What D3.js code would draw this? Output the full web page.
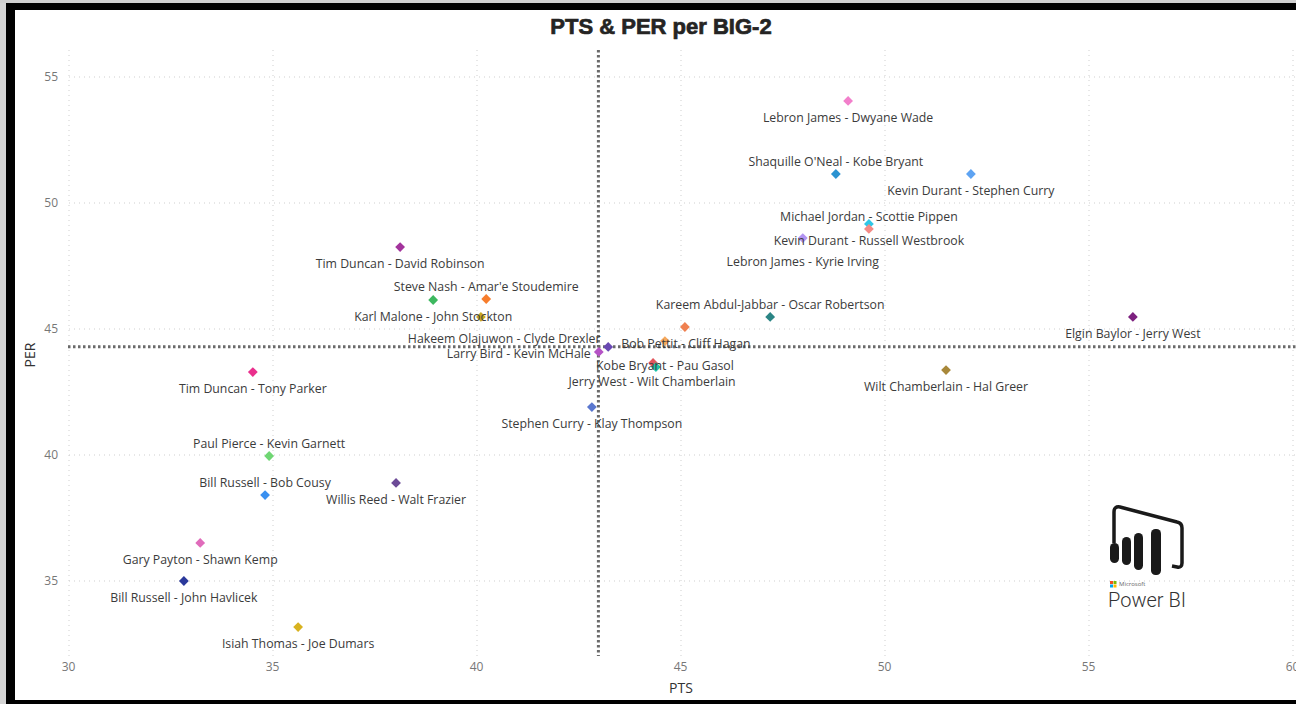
<!DOCTYPE html>
<html>
<head>
<meta charset="utf-8">
<script src="https://cdn.jsdelivr.net/npm/d3@7"></script>
<style>
html, body { margin: 0; padding: 0; background: #fff; overflow: hidden; }
svg { display: block; }
</style>
</head>
<body>
<svg id="chart" width="1296" height="704"></svg>
<script>
// pairs shown in the chart ("" = label hidden by Power BI)
const pairs = [
	"Lebron James - Dwyane Wade",
	"Shaquille O'Neal - Kobe Bryant",
	"Kevin Durant - Stephen Curry",
	"Michael Jordan - Scottie Pippen",
	"Kevin Durant - Russell Westbrook",
	"Lebron James - Kyrie Irving",
	"Tim Duncan - David Robinson",
	"Steve Nash - Amar'e Stoudemire",
	"Karl Malone - John Stockton",
	"",
	"Kareem Abdul-Jabbar - Oscar Robertson",
	" ",
	"Elgin Baylor - Jerry West",
	"Hakeem Olajuwon - Clyde Drexler",
	"Larry Bird - Kevin McHale",
	"Bob Pettit - Cliff Hagan",
	"Jerry West - Wilt Chamberlain",
	"Kobe Bryant - Pau Gasol",
	"Wilt Chamberlain - Hal Greer",
	"Tim Duncan - Tony Parker",
	"Stephen Curry - Klay Thompson",
	"Paul Pierce - Kevin Garnett",
	"Bill Russell - Bob Cousy",
	"Willis Reed - Walt Frazier",
	"Gary Payton - Shawn Kemp",
	"Bill Russell - John Havlicek",
	"Isiah Thomas - Joe Dumars"
];
const pts = [49.12, 48.82, 52.13, 49.63, 49.63, 48.01, 38.14, 40.25, 38.95, 40.12, 47.21, 45.12, 56.10,
	43.24, 43.01, 44.63, 44.34, 44.41, 51.52, 34.53, 42.84, 34.93, 34.83, 38.04, 33.24, 32.84, 35.64];
const per = [54.05, 51.15, 51.15, 49.17, 48.97, 48.61, 48.25, 46.19, 46.15, 45.48, 45.48, 45.08, 45.48,
	44.29, 44.09, 44.52, 43.65, 43.49, 43.37, 43.29, 41.90, 39.96, 38.41, 38.89, 36.51, 35.00, 33.17];

const xTicks = [30, 35, 40, 45, 50, 55, 60];
const yTicks = [35, 40, 45, 50, 55];
const avgPts = 43.0;
const avgPer = 44.3;

// marker colours, same order as pairs
const colors = ["#f27fcb", "#2b93d1", "#5ea3f2", "#2fc7e6", "#f48a86", "#b394f2", "#a3339c", "#f77d2c",
	"#3db85f", "#c9a722", "#2b8585", "#ef8050", "#7d217f", "#6a49b3", "#b553c6", "#f6a85c", "#e2565c",
	"#1fc3a9", "#a8883a", "#ea2f8d", "#5a77cf", "#6fd673", "#3990f0", "#6c4a97", "#e06cbb", "#2b399b", "#d8b21f"];

// label offsets (dx, dy) from the marker; default is below
const labelShift = {
	"Shaquille O'Neal - Kobe Bryant": [0, -12],
	"Michael Jordan - Scottie Pippen": [0, -7],
	"Kevin Durant - Russell Westbrook": [0, 12],
	"Lebron James - Kyrie Irving": [0, 24],
	"Steve Nash - Amar'e Stoudemire": [0, -12],
	"Kareem Abdul-Jabbar - Oscar Robertson": [0, -12],
	"Hakeem Olajuwon - Clyde Drexler": [-104, -8],
	"Larry Bird - Kevin McHale": [-80, 2],
	"Bob Pettit - Cliff Hagan": [21, 3],
	"Jerry West - Wilt Chamberlain": [-1, 19],
	"Kobe Bryant - Pau Gasol": [9, -1],
	"Paul Pierce - Kevin Garnett": [0, -12],
	"Bill Russell - Bob Cousy": [0, -12]
};

const plotTop = 50, plotBottom = 656, plotLeft = 68, plotRight = 1296;

const svg = d3.select("#chart");

// frame
svg.append("rect").attr("x", 0).attr("y", 0).attr("width", 1296).attr("height", 704).attr("fill", "#fff");
svg.append("rect").attr("x", 0).attr("y", 0).attr("width", 6).attr("height", 704).attr("fill", "#d4d4d4");
svg.append("rect").attr("x", 0).attr("y", 0).attr("width", 1296).attr("height", 3).attr("fill", "#cfcfcf");
svg.append("rect").attr("x", 6).attr("y", 3).attr("width", 1290).attr("height", 7).attr("fill", "#000");
svg.append("rect").attr("x", 6).attr("y", 3).attr("width", 9).attr("height", 701).attr("fill", "#000");
svg.append("rect").attr("x", 6).attr("y", 700).attr("width", 1290).attr("height", 4).attr("fill", "#000");

let x = d3.scaleLinear().domain([30, 60]).range([68, 1292]);
let y = d3.scaleLinear().domain([35, 55]).range([581, 77]);

// gridlines
let grid = svg.append("g").attr("stroke", "#cfcfcf").attr("stroke-dasharray", "1,4");
grid.selectAll("line.h").data(yTicks).enter().append("line")
	.attr("x1", plotLeft + 1).attr("x2", plotRight)
	.attr("y1", d => y(d)).attr("y2", d => y(d));
grid.selectAll("line.v").data(xTicks).enter().append("line")
	.attr("x1", d => x(d) + 1).attr("x2", d => x(d) + 1)
	.attr("y1", plotTop).attr("y2", plotBottom);

// axes
let xAxis = svg.append("g")
	.attr("transform", "translate(0," + plotBottom + ")")
	.call(d3.axisBottom(x).tickValues(xTicks).tickSize(0).tickPadding(6).tickFormat(d3.format("d")));
let yAxis = svg.append("g")
	.attr("transform", "translate(" + plotLeft + ",0)")
	.call(d3.axisLeft(y).tickValues(yTicks).tickSize(0).tickPadding(10).tickFormat(d3.format("d")));
[xAxis, yAxis].forEach(a => {
	a.select(".domain").remove();
	a.selectAll("text")
		.attr("fill", "#777")
		.style("font-family", "'Open Sans', sans-serif")
		.style("font-size", "12px");
});

// average lines
let avg = svg.append("g")
	.attr("stroke", "#6a6a6a")
	.attr("stroke-width", 3)
	.attr("stroke-dasharray", "2.5,2.5");
avg.append("line")
	.attr("x1", plotLeft).attr("x2", plotRight)
	.attr("y1", y(avgPer)).attr("y2", y(avgPer));
avg.append("line")
	.attr("x1", x(avgPts)).attr("x2", x(avgPts))
	.attr("y1", plotTop).attr("y2", plotBottom);

// markers
let color = d3.scaleOrdinal().domain(pairs).range(colors);
let diamond = d3.symbol().type(d3.symbolSquare).size(48);
svg.append("g").selectAll("path").data(pairs).enter().append("path")
	.attr("d", diamond)
	.attr("transform", (d, i) => `translate(${x(pts[i])},${y(per[i])}) rotate(45)`)
	.attr("fill", d => color(d));

// labels
svg.append("g").selectAll("text").data(pairs.filter(d => d.trim() != "")).enter().append("text")
	.attr("x", d => {
		let i = pairs.indexOf(d);
		let s = labelShift[d] || [0, 17];
		return x(pts[i]) + s[0];
	})
	.attr("y", d => {
		let i = pairs.indexOf(d);
		let s = labelShift[d] || [0, 17];
		return y(per[i]) + s[1];
	})
	.attr("dy", "0.35em")
	.attr("text-anchor", "middle")
	.attr("fill", "#3b3b3b")
	.style("font-family", "'Open Sans', sans-serif")
	.style("font-size", "12.3px")
	.text(d => d);

// titles
svg.append("text")
	.attr("x", 661).attr("y", 34)
	.attr("text-anchor", "middle")
	.attr("fill", "#252423")
	.attr("stroke", "#252423")
	.attr("stroke-width", 0.7)
	.style("font-family", "'Liberation Sans', Arial, sans-serif")
	.style("font-weight", "bold")
	.style("font-size", "22px")
	.text("PTS & PER per BIG-2");
svg.append("text")
	.attr("x", 681).attr("y", 693)
	.attr("text-anchor", "middle")
	.attr("fill", "#333")
	.style("font-family", "'Open Sans', sans-serif")
	.style("font-size", "14px")
	.text("PTS");
svg.append("text")
	.attr("transform", "translate(35,355) rotate(-90)")
	.attr("text-anchor", "middle")
	.attr("fill", "#333")
	.style("font-family", "'Open Sans', sans-serif")
	.style("font-size", "14px")
	.text("PER");

// Power BI logo
let logo = svg.append("g");
logo.append("path")
	.attr("d", "M1114,543 L1114,512 Q1114,506 1120,507 L1177,522 Q1182,523 1182,528 L1182,563 Q1182,568 1177,567 L1172,566")
	.attr("fill", "none").attr("stroke", "#1a1a1a").attr("stroke-width", 3.5);
[[1110, 543, 9, 20], [1122, 537, 9, 28], [1134, 533, 9, 37], [1151, 529, 10, 46]].forEach(b => {
	logo.append("rect").attr("x", b[0]).attr("y", b[1]).attr("width", b[2]).attr("height", b[3])
		.attr("rx", 4.5).attr("fill", "#1a1a1a");
});
[["#f25022", 0, 0], ["#7fba00", 3.5, 0], ["#00a4ef", 0, 3.5], ["#ffb900", 3.5, 3.5]].forEach(s => {
	logo.append("rect").attr("x", 1110 + s[1]).attr("y", 581 + s[2]).attr("width", 3).attr("height", 3).attr("fill", s[0]);
});
logo.append("text").attr("x", 1119).attr("y", 586)
	.attr("fill", "#666").style("font-family", "'Open Sans', sans-serif").style("font-size", "6px").text("Microsoft");
logo.append("text").attr("x", 1108).attr("y", 607)
	.attr("fill", "#333").style("font-family", "Roboto, sans-serif").style("font-weight", 300).style("font-size", "20px")
	.text("Power BI");
</script>
</body>
</html>
